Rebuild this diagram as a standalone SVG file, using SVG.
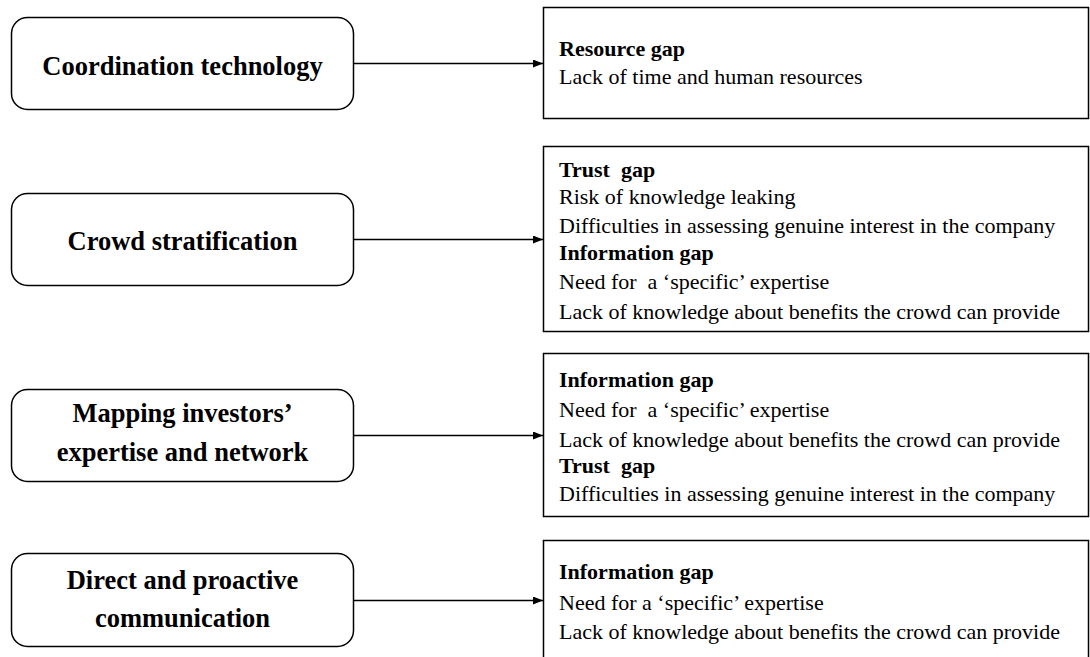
<svg xmlns="http://www.w3.org/2000/svg" width="1090" height="657" viewBox="0 0 1090 657">
<style>
.lbox{fill:#fff;stroke:#000;stroke-width:1.5}
.rbox{fill:#fff;stroke:#000;stroke-width:1.5}
text{font-family:'Liberation Serif','DejaVu Serif',serif;fill:#000}
.lt{font-weight:bold;font-size:26.5px;text-anchor:middle}
.h{font-weight:bold;font-size:22px}
.t{font-size:22px}
.c{stroke:#000;stroke-width:1.5;fill:none}
</style>
<defs>
<marker id="ah" viewBox="0 0 10 8" refX="10" refY="4" markerWidth="10" markerHeight="8" markerUnits="userSpaceOnUse" orient="auto">
<path d="M0,0 L10,4 L0,8 Z" fill="#000"/>
</marker>
</defs>
<g id="n1">
<rect class="lbox" x="11.5" y="17.5" width="342" height="92" rx="16"/>
<text class="lt" x="182.5" y="75">Coordination technology</text>
</g>
<g id="n2">
<rect class="lbox" x="11.5" y="193.5" width="342" height="92" rx="16"/>
<text class="lt" x="182.5" y="250">Crowd stratification</text>
</g>
<g id="n3">
<rect class="lbox" x="11.5" y="389.5" width="342" height="92" rx="16"/>
<text class="lt" x="182.5" y="422">Mapping investors’</text>
<text class="lt" x="182.5" y="461">expertise and network</text>
</g>
<g id="n4">
<rect class="lbox" x="11.5" y="553.5" width="342" height="93" rx="16"/>
<text class="lt" x="182.5" y="589">Direct and proactive</text>
<text class="lt" x="182.5" y="627">communication</text>
</g>
<g id="r1">
<rect class="rbox" x="543.5" y="7.5" width="545" height="111"/>
<text class="h" x="559" y="56">Resource gap</text>
<text class="t" x="559" y="84">Lack of time and human resources</text>
</g>
<g id="r2">
<rect class="rbox" x="543.5" y="146.5" width="545" height="185"/>
<text class="h" x="559" y="177" xml:space="preserve">Trust  gap</text>
<text class="t" x="559" y="204">Risk of knowledge leaking</text>
<text class="t" x="559" y="233">Difficulties in assessing genuine interest in the company</text>
<text class="h" x="559" y="260">Information gap</text>
<text class="t" x="559" y="289" xml:space="preserve">Need for  a ‘specific’ expertise</text>
<text class="t" x="559" y="319">Lack of knowledge about benefits the crowd can provide</text>
</g>
<g id="r3">
<rect class="rbox" x="543.5" y="353.5" width="545" height="163"/>
<text class="h" x="559" y="387">Information gap</text>
<text class="t" x="559" y="417" xml:space="preserve">Need for  a ‘specific’ expertise</text>
<text class="t" x="559" y="447">Lack of knowledge about benefits the crowd can provide</text>
<text class="h" x="559" y="473" xml:space="preserve">Trust  gap</text>
<text class="t" x="559" y="501">Difficulties in assessing genuine interest in the company</text>
</g>
<g id="r4">
<rect class="rbox" x="543.5" y="540.5" width="545" height="130"/>
<text class="h" x="559" y="579">Information gap</text>
<text class="t" x="559" y="610">Need for a ‘specific’ expertise</text>
<text class="t" x="559" y="639">Lack of knowledge about benefits the crowd can provide</text>
</g>
<g id="connectors">
<line class="c" x1="354" y1="63.5" x2="543" y2="63.5" marker-end="url(#ah)"/>
<line class="c" x1="354" y1="239.5" x2="543" y2="239.5" marker-end="url(#ah)"/>
<line class="c" x1="354" y1="435.5" x2="543" y2="435.5" marker-end="url(#ah)"/>
<line class="c" x1="354" y1="600.5" x2="543" y2="600.5" marker-end="url(#ah)"/>
</g>
</svg>
